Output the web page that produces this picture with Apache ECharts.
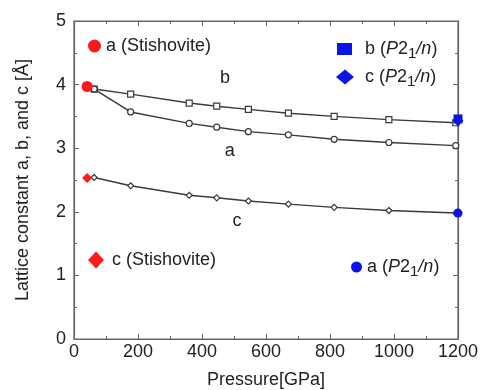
<!DOCTYPE html>
<html>
<head>
<meta charset="utf-8">
<script src="https://cdn.jsdelivr.net/npm/echarts@6/dist/echarts.min.js"></script>
<style>
  html, body { margin: 0; padding: 0; background: #fff; }
  #chart { width: 490px; height: 390px; }
</style>
</head>
<body>
<div id="chart"></div>
<script>
// pressure points (GPa) shared by the three calculated curves
const pressure = [63, 177, 360, 446, 545, 670, 813, 984, 1193];
const bValues = [3.93, 3.85, 3.71, 3.66, 3.61, 3.55, 3.50, 3.45, 3.40];
const aValues = [3.93, 3.57, 3.39, 3.33, 3.26, 3.21, 3.14, 3.09, 3.04];
const cValues = [2.54, 2.41, 2.26, 2.22, 2.17, 2.12, 2.07, 2.02, 1.98];

// single reference points
const stishA = [[41, 3.97]];
const stishC = [[41, 2.53]];
const p21nA = [[1200, 1.98]];
const p21nB = [[1200, 3.46]];
const p21nC = [[1200, 3.43]];

const xTicks = [0, 200, 400, 600, 800, 1000, 1200];
const yTicks = [0, 1, 2, 3, 4, 5];

const pair = (xs, ys) => xs.map((x, i) => [x, ys[i]]);

const font = "Liberation Sans";
const textColor = "#222";
const lineColor = "#3a3a3a";
const frameColor = "#666";

const richText = (gap) => ({
  t: { fontFamily: font, fontSize: 18, color: textColor },
  g: { width: gap },
  i: { fontFamily: font, fontSize: 18, color: textColor, fontStyle: "italic" },
  s: { fontFamily: font, fontSize: 15, color: textColor, padding: [9, 0, 0, 0] },
});

const legendName = (name) => {
  // names like "b (P21/n)" get italic P and subscript 1
  const m = name.match(/^(\w) \(P21\/n\)$/);
  if (!m) return "{g|}{t|" + name + "}";
  return "{g|}{t|" + m[1] + " (}{i|P}{t|2}{s|1}{i|/n}{t|)}";
};

const oneLegend = (name, icon, w, h, left, top, gap) => ({
  data: [name],
  icon: icon,
  itemWidth: w,
  itemHeight: h,
  left: left,
  top: top,
  padding: 0,
  selectedMode: false,
  formatter: legendName,
  textStyle: { rich: richText(gap) },
});

const curve = (name, data, symbol, label) => ({
  name: name,
  type: "line",
  data: data,
  symbol: symbol,
  symbolSize: 6,
  showAllSymbol: true,
  lineStyle: { color: lineColor, width: 1.4 },
  itemStyle: { color: "#fff", borderColor: lineColor, borderWidth: 1.2 },
  z: 3,
  markPoint: {
    symbol: "circle",
    symbolSize: 2,
    itemStyle: { color: "transparent" },
    data: [{ coord: label.at, value: label.text }],
    label: {
      show: true,
      position: "inside",
      formatter: label.text,
      fontFamily: font,
      fontSize: 18,
      color: textColor,
    },
  },
});

const point = (name, data, symbol, size, color) => ({
  name: name,
  type: "scatter",
  data: data,
  symbol: symbol,
  symbolSize: size,
  itemStyle: { color: color, opacity: 1 },
  z: 4,
});

const frameAxis = {
  gridIndex: 0,
  axisLine: { show: true, onZero: false, lineStyle: { color: frameColor, width: 1.2 } },
  axisTick: { show: true, inside: true, length: 5, lineStyle: { color: frameColor } },
  minorTick: { show: true, splitNumber: 2, length: 3, lineStyle: { color: frameColor } },
  splitLine: { show: false },
};

const chart = echarts.init(document.getElementById("chart"));

chart.setOption({
  animation: false,
  backgroundColor: "#fff",
  grid: {
    left: 74,
    right: 32,
    top: 21,
    bottom: 51,
    outerBoundsMode: "none",
    containLabel: false,
    show: true,
    borderColor: frameColor,
    borderWidth: 1.2,
    backgroundColor: "transparent",
  },
  legend: [
    oneLegend("a (Stishovite)", "circle", 13, 13, 88, 37, 0),
    oneLegend("c (Stishovite)", "diamond", 16, 17, 88, 251, 3),
    oneLegend("b (P21/n)", "rect", 15, 12, 337, 40, 8),
    oneLegend("c (P21/n)", "diamond", 18, 15, 336, 68, 6),
    oneLegend("a (P21/n)", "circle", 11, 11, 351, 258, 0),
  ],
  xAxis: [
    {
      ...frameAxis,
      type: "value",
      min: 0,
      max: 1200,
      interval: 200,
      name: "Pressure[GPa]",
      nameLocation: "middle",
      nameGap: 32,
      nameTextStyle: { fontFamily: font, fontSize: 18, color: textColor },
      axisLabel: {
        fontFamily: font,
        fontSize: 18,
        color: textColor,
        margin: 4,
        showMaxLabel: true,
        formatter: (v) => (xTicks.includes(v) ? String(v) : ""),
      },
    },
    {
      ...frameAxis,
      type: "value",
      position: "top",
      min: 0,
      max: 1200,
      interval: 200,
      axisLabel: { show: false },
    },
  ],
  yAxis: [
    {
      ...frameAxis,
      type: "value",
      min: 0,
      max: 5,
      interval: 1,
      name: "Lattice constant a, b, and c [Å]",
      nameLocation: "middle",
      nameGap: 42,
      nameTextStyle: { fontFamily: font, fontSize: 18, color: textColor },
      axisLabel: {
        fontFamily: font,
        fontSize: 18,
        color: textColor,
        margin: 8,
        formatter: (v) => (yTicks.includes(v) ? String(v) : ""),
      },
    },
    {
      ...frameAxis,
      type: "value",
      position: "right",
      min: 0,
      max: 5,
      interval: 1,
      axisLabel: { show: false },
    },
  ],
  series: [
    curve("b", pair(pressure, bValues), "rect", { at: [472, 4.1], text: "b" }),
    curve("a", pair(pressure, aValues), "circle", { at: [487, 2.96], text: "a" }),
    curve("c", pair(pressure, cValues), "diamond", { at: [509, 1.86], text: "c" }),
    point("a (Stishovite)", stishA, "circle", 11, "#ff1a1a"),
    point("c (Stishovite)", stishC, "diamond", 10, "#ff1a1a"),
    point("c (P21/n)", p21nC, "diamond", 11, "#0a14e6"),
    point("b (P21/n)", p21nB, "rect", 9, "#0a14e6"),
    point("a (P21/n)", p21nA, "circle", 9, "#0a14e6"),
    // empty series so the top and right frame axes are laid out
    { type: "line", xAxisIndex: 1, yAxisIndex: 1, data: [], silent: true },
  ],
});
</script>
</body>
</html>
